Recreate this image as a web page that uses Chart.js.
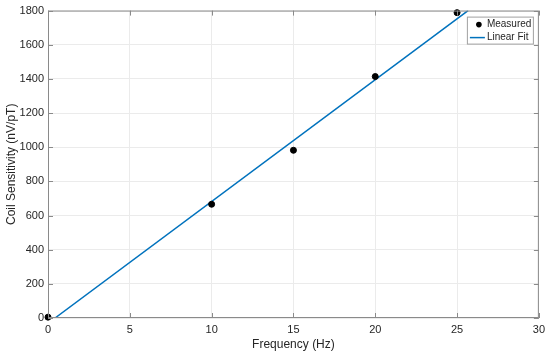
<!DOCTYPE html>
<html>
<head>
<meta charset="utf-8">
<script src="https://cdn.jsdelivr.net/npm/chart.js@4/dist/chart.umd.min.js"></script>
<style>
  html, body { margin: 0; padding: 0; background: #fff; }
  #wrap { width: 550px; height: 356px; }
</style>
</head>
<body>
<div id="wrap"><canvas id="coilChart"></canvas></div>
<script>
// Data
const freqHz = [0, 10, 15, 20, 25];
const sensitivity = [5, 666, 982, 1414, 1788];
// end points of the linear fit line
const fitFreq = [0.43, 25.67];
const fitSens = [0, 1800];
const xTicks = [0, 5, 10, 15, 20, 25, 30];
const yTicks = [0, 200, 400, 600, 800, 1000, 1200, 1400, 1600, 1800];

const fontFamily = '"Liberation Sans", Arial, sans-serif';
const textColor = '#262626';
const fitColor = '#0072BD';

// box around plot area + inward tick marks, MATLAB style
const boxPlugin = {
    id: 'boxPlugin',
    afterDatasetsDraw(chart) {
        const ctx = chart.ctx;
        const a = chart.chartArea;
        const xs = chart.scales.x, ys = chart.scales.y;
        ctx.save();
        ctx.strokeStyle = '#8a8a8a';
        ctx.lineWidth = 1;
        ctx.strokeRect(a.left + 0.5, a.top + 0.5, a.right - a.left - 1, a.bottom - a.top - 1);
        ctx.beginPath();
        xTicks.forEach(v => {
            const px = Math.round(xs.getPixelForValue(v)) + 0.5;
            ctx.moveTo(px, a.bottom); ctx.lineTo(px, a.bottom - 5);
            ctx.moveTo(px, a.top); ctx.lineTo(px, a.top + 5);
        });
        yTicks.forEach(v => {
            const py = Math.round(ys.getPixelForValue(v)) + 0.5;
            ctx.moveTo(a.left, py); ctx.lineTo(a.left + 5, py);
            ctx.moveTo(a.right, py); ctx.lineTo(a.right - 5, py);
        });
        ctx.stroke();
        ctx.restore();
    },
    afterDraw(chart) {
        // legend box in top right corner
        const ctx = chart.ctx;
        const a = chart.chartArea;
        const bx = a.right - 72, by = a.top + 6, bw = 66, bh = 27;
        ctx.save();
        ctx.fillStyle = '#fff';
        ctx.fillRect(bx, by, bw, bh);
        ctx.strokeStyle = '#a0a0a0';
        ctx.lineWidth = 1;
        ctx.strokeRect(bx + 0.5, by + 0.5, bw, bh);
        ctx.fillStyle = '#000';
        ctx.beginPath();
        ctx.arc(bx + 12, by + 8, 2.8, 0, Math.PI * 2);
        ctx.fill();
        ctx.strokeStyle = fitColor;
        ctx.lineWidth = 1.5;
        ctx.beginPath();
        ctx.moveTo(bx + 3, by + 21);
        ctx.lineTo(bx + 18, by + 21);
        ctx.stroke();
        ctx.fillStyle = textColor;
        ctx.font = '10px ' + fontFamily;
        ctx.textBaseline = 'middle';
        ctx.fillText('Measured', bx + 20, by + 8);
        ctx.fillText('Linear Fit', bx + 20, by + 21);
        ctx.restore();
    }
};

let coilChart;
function initializeChart() {
    const ctx = document.getElementById('coilChart').getContext('2d');
    coilChart = new Chart(ctx, {
        type: 'scatter',
        data: {
            datasets: [{
                label: 'Measured',
                data: freqHz.map((f, i) => ({ x: f, y: sensitivity[i] })),
                backgroundColor: '#000',
                borderColor: '#000',
                pointRadius: 3,
                clip: false,
                order: 0
            }, {
                label: 'Linear Fit',
                data: fitFreq.map((f, i) => ({ x: f, y: fitSens[i] })),
                showLine: true,
                borderColor: fitColor,
                borderWidth: 1.5,
                pointRadius: 0,
                order: 1
            }]
        },
        options: {
            responsive: true,
            maintainAspectRatio: false,
            animation: false,
            layout: { padding: { top: 10, right: 10, left: 0, bottom: 0 } },
            plugins: {
                legend: { display: false },
                tooltip: { enabled: false }
            },
            scales: {
                x: {
                    type: 'linear',
                    min: 0,
                    max: 30,
                    afterBuildTicks: s => { s.ticks = xTicks.map(v => ({ value: v })); },
                    afterFit: s => { s.height = 38; },
                    grid: { color: '#ebebeb', drawTicks: false },
                    border: { display: false },
                    ticks: { color: textColor, font: { family: fontFamily, size: 11 }, padding: 5, maxRotation: 0, callback: v => String(v) },
                    title: { display: true, text: 'Frequency (Hz)', color: textColor, font: { family: fontFamily, size: 12 }, padding: { top: 2, bottom: 4 } }
                },
                y: {
                    min: 0,
                    max: 1800,
                    afterBuildTicks: s => { s.ticks = yTicks.map(v => ({ value: v })); },
                    afterFit: s => { s.width = 48; },
                    grid: { color: '#ebebeb', drawTicks: false },
                    border: { display: false },
                    ticks: { color: textColor, font: { family: fontFamily, size: 11 }, padding: 4, callback: v => String(v) },
                    title: { display: true, text: 'Coil Sensitivity (nV/pT)', color: textColor, font: { family: fontFamily, size: 12 }, padding: { top: 4, bottom: 2 } }
                }
            }
        },
        plugins: [boxPlugin]
    });
}

initializeChart();
</script>
</body>
</html>
